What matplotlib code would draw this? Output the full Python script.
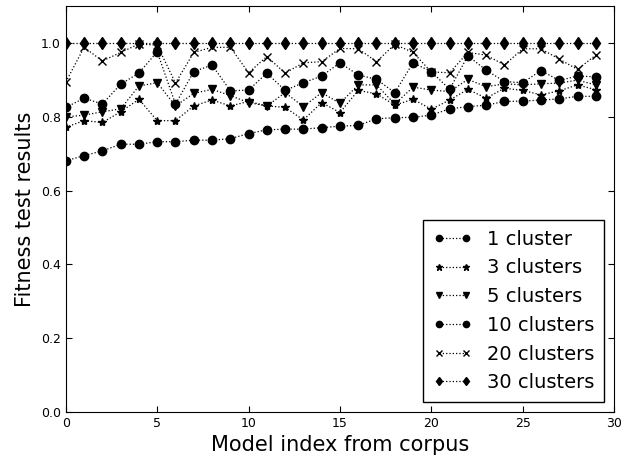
import numpy as np
import matplotlib
matplotlib.use('Agg')
import matplotlib.pyplot as plt

model_index = np.arange(30)

fit_1 = [0.681, 0.695, 0.708, 0.726, 0.726, 0.733, 0.733, 0.737, 0.737, 0.741,
         0.755, 0.765, 0.767, 0.767, 0.771, 0.775, 0.777, 0.795, 0.798, 0.799,
         0.805, 0.822, 0.828, 0.832, 0.842, 0.843, 0.846, 0.849, 0.856, 0.856]
fit_3 = [0.772, 0.790, 0.785, 0.814, 0.848, 0.790, 0.790, 0.830, 0.846, 0.830,
         0.842, 0.830, 0.826, 0.792, 0.839, 0.812, 0.872, 0.863, 0.832, 0.848,
         0.821, 0.846, 0.875, 0.851, 0.878, 0.872, 0.860, 0.871, 0.887, 0.874]
fit_5 = [0.800, 0.805, 0.814, 0.822, 0.884, 0.893, 0.830, 0.864, 0.875, 0.858,
         0.839, 0.830, 0.866, 0.828, 0.866, 0.837, 0.887, 0.887, 0.835, 0.881,
         0.873, 0.869, 0.902, 0.882, 0.890, 0.887, 0.890, 0.892, 0.900, 0.887]
fit_10 = [0.826, 0.851, 0.835, 0.889, 0.919, 0.977, 0.835, 0.923, 0.941, 0.871,
          0.873, 0.919, 0.872, 0.893, 0.911, 0.947, 0.914, 0.902, 0.866, 0.947,
          0.923, 0.875, 0.966, 0.927, 0.896, 0.893, 0.926, 0.899, 0.911, 0.909]
fit_20 = [0.895, 0.989, 0.952, 0.975, 0.998, 0.995, 0.892, 0.975, 0.989, 0.989,
          0.920, 0.964, 0.919, 0.947, 0.950, 0.986, 0.985, 0.950, 0.997, 0.975,
          0.922, 0.920, 0.975, 0.968, 0.941, 0.985, 0.985, 0.957, 0.929, 0.968]
fit_30 = [1.0] * 30

series = [
    ('1 cluster', fit_1, 'o'),
    ('3 clusters', fit_3, '*'),
    ('5 clusters', fit_5, 'v'),
    ('10 clusters', fit_10, 'o'),
    ('20 clusters', fit_20, 'x'),
    ('30 clusters', fit_30, 'd'),
]

fig = plt.figure(figsize=(6.39, 4.59), dpi=100)
ax = fig.add_axes([0.103, 0.103, 0.858, 0.883])

# dotted black lines, filled black markers
for label, vals, marker in series:
    ax.plot(model_index, vals, linestyle=':', linewidth=0.9, color='black',
            marker=marker, markersize=6, markerfacecolor='black',
            markeredgecolor='black', label=label)

ax.set_xlim(0, 30)
ax.set_ylim(0, 1.1)
ax.set_yticks([0.0, 0.2, 0.4, 0.6, 0.8, 1.0])
ax.tick_params(direction='in', top=True, right=True, labelsize=9, length=4)
ax.set_xlabel('Model index from corpus', fontsize=15)
ax.set_ylabel('Fitness test results', fontsize=15)

leg = ax.legend(loc='lower right', fontsize=14, numpoints=2, fancybox=False,
                framealpha=1, edgecolor='black', handlelength=2.0,
                markerscale=0.75, borderpad=0.5)
leg.get_frame().set_linewidth(1.0)

fig.savefig('out.png', dpi=100)
